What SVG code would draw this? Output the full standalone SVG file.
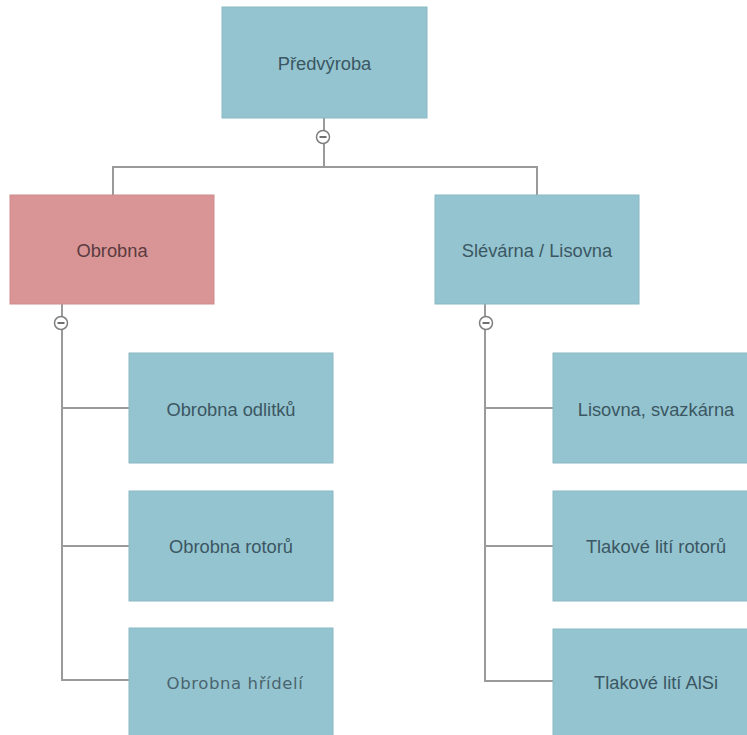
<svg xmlns="http://www.w3.org/2000/svg" width="747" height="735" viewBox="0 0 747 735">
<style>
.b{fill:#94c4cf;stroke:#8ab9c4;stroke-width:1}
.p{fill:#d99595;stroke:#cf8b8c;stroke-width:1}
.t{font-family:"Liberation Sans",Arial,sans-serif;font-size:18.3px;fill:#3b5763;text-anchor:middle;dominant-baseline:central}
.tp{fill:#5b3a40}
.tg{font-family:"DejaVu Sans",Verdana,sans-serif;font-size:16.5px;letter-spacing:0.6px;fill:#4a6470}
.c{fill:none;stroke:#9a9a9a;stroke-width:2}
.k{fill:#ffffff;stroke:#7f7f7f;stroke-width:1.5}
.m{stroke:#6f6f6f;stroke-width:2}
</style>
<rect width="747" height="735" fill="#ffffff"/>
<g id="connectors">
<path class="c" d="M324 118V167M113 195V167H537V195"/>
<path class="c" d="M62 304V680H129M62 408H129M62 546H129"/>
<path class="c" d="M485 304V681H553M485 408H553M485 546H553"/>
<circle class="k" cx="323" cy="137" r="6.5"/>
<line class="m" x1="319.5" y1="137" x2="326.5" y2="137"/>
<circle class="k" cx="61" cy="323" r="6.5"/>
<line class="m" x1="57.5" y1="323" x2="64.5" y2="323"/>
<circle class="k" cx="486" cy="323" r="6.5"/>
<line class="m" x1="482.5" y1="323" x2="489.5" y2="323"/>
</g>
<g id="predvyroba"><rect class="b" x="222" y="7" width="205" height="111"/><text class="t" x="324.5" y="63">Předvýroba</text></g>
<g id="obrobna"><rect class="p" x="10" y="195" width="204" height="109"/><text class="t tp" x="112" y="250">Obrobna</text></g>
<g id="slevarna"><rect class="b" x="435" y="195" width="204" height="109"/><text class="t" x="537" y="250">Slévárna / Lisovna</text></g>
<g id="obrobna-odlitku"><rect class="b" x="129" y="353" width="204" height="110"/><text class="t" x="231" y="409">Obrobna odlitků</text></g>
<g id="obrobna-rotoru"><rect class="b" x="129" y="491" width="204" height="110"/><text class="t" x="231" y="546">Obrobna rotorů</text></g>
<g id="obrobna-hrideli"><rect class="b" x="129" y="628" width="204" height="110"/><text class="t tg" x="235" y="683">Obrobna hřídelí</text></g>
<g id="lisovna-svazkarna"><rect class="b" x="553" y="353" width="204" height="110"/><text class="t" x="656" y="409">Lisovna, svazkárna</text></g>
<g id="tlakove-liti-rotoru"><rect class="b" x="553" y="491" width="204" height="110"/><text class="t" x="656" y="546">Tlakové lití rotorů</text></g>
<g id="tlakove-liti-alsi"><rect class="b" x="553" y="629" width="204" height="110"/><text class="t" x="656" y="682">Tlakové lití AlSi</text></g>
</svg>
